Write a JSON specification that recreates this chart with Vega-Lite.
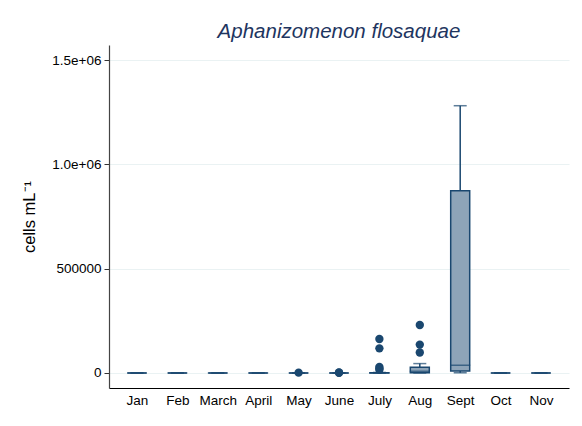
{
  "$schema": "https://vega.github.io/schema/vega-lite/v6.json",
  "width": 460,
  "height": 343,
  "autosize": {"type": "none"},
  "padding": {"left": 109, "top": 45, "right": 13, "bottom": 38},
  "background": "white",
  "config": {
    "font": "Liberation Sans",
    "view": {"stroke": null},
    "axis": {"labelFont": "Liberation Sans", "titleFont": "Liberation Sans"}
  },
  "title": {
    "text": "Aphanizomenon flosaquae",
    "font": "Liberation Sans",
    "fontStyle": "italic",
    "fontWeight": "normal",
    "fontSize": 20.5,
    "color": "#1e3560",
    "anchor": "middle",
    "offset": 4,
    "dy": 21,
    "baseline": "bottom"
  },
  "datasets": {
    "summary": [
      {"month": "Jan", "lower": 0, "q1": 0, "median": 0, "q3": 0, "upper": 0},
      {"month": "Feb", "lower": 0, "q1": 0, "median": 0, "q3": 0, "upper": 0},
      {"month": "March", "lower": 0, "q1": 0, "median": 0, "q3": 0, "upper": 0},
      {"month": "April", "lower": 0, "q1": 0, "median": 0, "q3": 0, "upper": 0},
      {"month": "May", "lower": 0, "q1": 0, "median": 0, "q3": 0, "upper": 0},
      {"month": "June", "lower": 0, "q1": 0, "median": 0, "q3": 0, "upper": 0},
      {"month": "July", "lower": 0, "q1": 0, "median": 300, "q3": 1000, "upper": 2500},
      {"month": "Aug", "lower": 0, "q1": 1000, "median": 8000, "q3": 28000, "upper": 45000},
      {"month": "Sept", "lower": 1000, "q1": 10000, "median": 37000, "q3": 874000, "upper": 1281000},
      {"month": "Oct", "lower": 0, "q1": 0, "median": 0, "q3": 0, "upper": 0},
      {"month": "Nov", "lower": 0, "q1": 0, "median": 0, "q3": 0, "upper": 0}
    ],
    "outliers": [
      {"month": "May", "value": 1500},
      {"month": "June", "value": 1200},
      {"month": "June", "value": 2500},
      {"month": "July", "value": 163000},
      {"month": "July", "value": 118000},
      {"month": "July", "value": 29000},
      {"month": "July", "value": 22000},
      {"month": "July", "value": 15000},
      {"month": "Aug", "value": 230000},
      {"month": "Aug", "value": 136000},
      {"month": "Aug", "value": 98000}
    ]
  },
  "encoding": {
    "x": {
      "field": "month",
      "type": "nominal",
      "sort": ["Jan", "Feb", "March", "April", "May", "June", "July", "Aug", "Sept", "Oct", "Nov"],
      "scale": {"type": "point", "padding": 0.693},
      "axis": {
        "title": null,
        "labelAngle": 0,
        "labelFontSize": 13.5,
        "labelColor": "#000000",
        "labelPadding": 5,
        "ticks": false,
        "domainColor": "#000000",
        "domainWidth": 1.2,
        "grid": false
      }
    }
  },
  "layer": [
    {
      "data": {"name": "summary"},
      "mark": {"type": "rule", "color": "#1a476f", "strokeWidth": 1.5},
      "encoding": {
        "y": {
          "field": "lower",
          "type": "quantitative",
          "scale": {"domain": [-72000, 1572000], "nice": false, "zero": false},
          "axis": {
            "title": "cells mL⁻¹",
            "titleFontSize": 16.5,
            "titleFontWeight": "normal",
            "titleColor": "#000000",
            "titlePadding": 14,
            "values": [0, 500000, 1000000, 1500000],
            "labelExpr": "datum.value >= 1000000 ? format(datum.value/1000000, '.1f') + 'e+06' : format(datum.value, 'd')",
            "labelFontSize": 13.5,
            "labelColor": "#000000",
            "labelPadding": 3,
            "tickSize": 5,
            "tickColor": "#333333",
            "domainColor": "#444444",
            "domainWidth": 1.2,
            "grid": true,
            "gridColor": "#eaf2f3",
            "gridWidth": 1.2
          }
        },
        "y2": {"field": "upper"}
      }
    },
    {
      "data": {"name": "summary"},
      "mark": {"type": "tick", "color": "#1a476f", "thickness": 1.5, "size": 13, "orient": "horizontal"},
      "encoding": {"y": {"field": "upper", "type": "quantitative"}}
    },
    {
      "data": {"name": "summary"},
      "mark": {"type": "tick", "color": "#1a476f", "thickness": 1.5, "size": 13, "orient": "horizontal"},
      "encoding": {"y": {"field": "lower", "type": "quantitative"}}
    },
    {
      "data": {"name": "summary"},
      "mark": {"type": "bar", "width": 19, "fill": "#8ea4b8", "stroke": "#1a476f", "strokeWidth": 1.5},
      "encoding": {
        "y": {"field": "q1", "type": "quantitative"},
        "y2": {"field": "q3"}
      }
    },
    {
      "data": {"name": "summary"},
      "mark": {"type": "tick", "color": "#1a476f", "thickness": 1.5, "size": 20, "orient": "horizontal"},
      "encoding": {"y": {"field": "median", "type": "quantitative"}}
    },
    {
      "data": {"name": "outliers"},
      "mark": {"type": "circle", "color": "#1a476f", "opacity": 1, "size": 70},
      "encoding": {"y": {"field": "value", "type": "quantitative"}}
    }
  ]
}
